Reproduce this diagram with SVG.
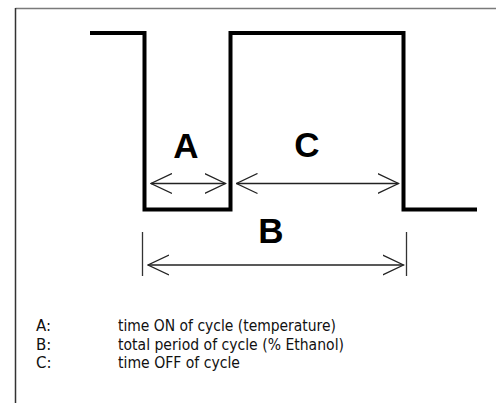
<svg xmlns="http://www.w3.org/2000/svg" width="496" height="403" viewBox="0 0 496 403">
<style>
.wave{fill:none;stroke:#000;stroke-width:4;stroke-linejoin:miter}
.dim{fill:none;stroke:#222;stroke-width:1.3}
.tick{stroke:#333;stroke-width:1.3}
.big{font-family:"Liberation Sans",Arial,sans-serif;font-weight:bold;font-size:35px;fill:#000;text-anchor:middle}
.leg{font-family:"DejaVu Sans","Noto Sans",sans-serif;font-size:15px;fill:#111}
</style>
<defs>
<marker id="ah" viewBox="0 0 22 22" refX="21" refY="11" markerWidth="22" markerHeight="22" markerUnits="userSpaceOnUse" orient="auto-start-reverse">
<path d="M0,1 L21,11 L0,21" fill="none" stroke="#222" stroke-width="1.3"/>
</marker>
</defs>
<rect x="0" y="0" width="496" height="403" fill="#fff"/>
<g id="frame">
<line x1="15.5" y1="8.5" x2="496" y2="8.5" stroke="#7a7a7a" stroke-width="1.5"/>
<line x1="15.5" y1="8" x2="15.5" y2="403" stroke="#333" stroke-width="1.5"/>
</g>
<g id="waveform">
<polyline class="wave" points="90,33 144.5,33 144.5,209.5 230.5,209.5 230.5,33 403.5,33 403.5,209.5 477,209.5"/>
</g>
<g id="connectors">
<line class="dim" x1="151" y1="183.5" x2="225.5" y2="183.5" marker-start="url(#ah)" marker-end="url(#ah)"/>
<line class="dim" x1="236.5" y1="183.5" x2="398.5" y2="183.5" marker-start="url(#ah)" marker-end="url(#ah)"/>
<line class="tick" x1="142.5" y1="232" x2="142.5" y2="276"/>
<line class="tick" x1="406.5" y1="232" x2="406.5" y2="276"/>
<line class="dim" x1="148" y1="265" x2="403.5" y2="265" marker-start="url(#ah)" marker-end="url(#ah)"/>
</g>
<g id="label-A"><text class="big" x="186" y="158">A</text></g>
<g id="label-C"><text class="big" x="307" y="157">C</text></g>
<g id="label-B"><text class="big" x="271" y="243">B</text></g>
<g id="legend">
<text class="leg" x="36" y="331">A:</text>
<text class="leg" x="118" y="331" textLength="218" lengthAdjust="spacingAndGlyphs">time ON of cycle (temperature)</text>
<text class="leg" x="36" y="350">B:</text>
<text class="leg" x="118" y="350" textLength="226" lengthAdjust="spacingAndGlyphs">total period of cycle (% Ethanol)</text>
<text class="leg" x="36" y="368">C:</text>
<text class="leg" x="118" y="368" textLength="122" lengthAdjust="spacingAndGlyphs">time OFF of cycle</text>
</g>
</svg>
